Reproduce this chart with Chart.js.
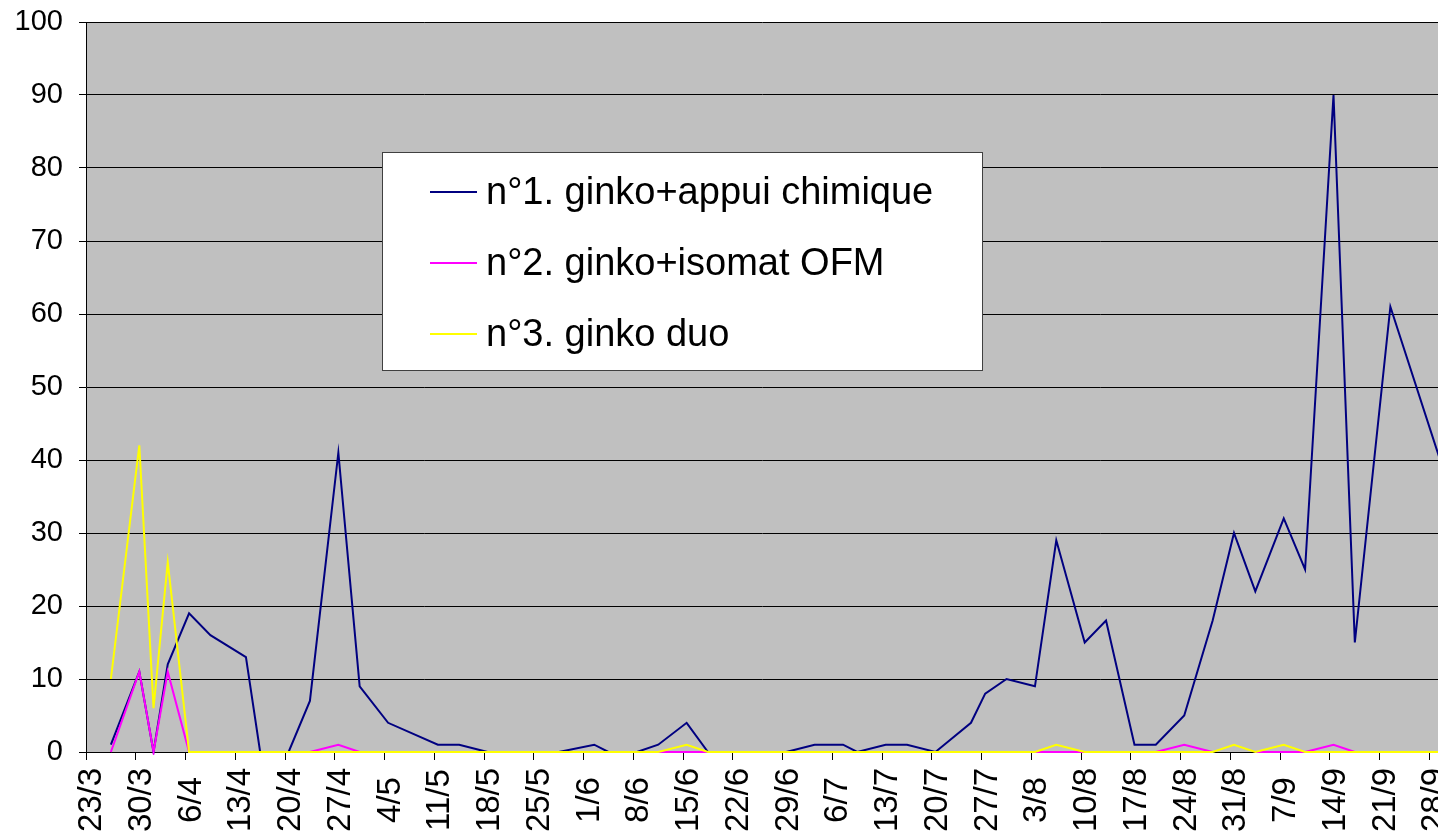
<!DOCTYPE html>
<html>
<head>
<meta charset="utf-8">
<script src="https://cdn.jsdelivr.net/npm/chart.js@4/dist/chart.umd.min.js"></script>
<style>
  html, body { margin: 0; padding: 0; background: #fff; }
  #chart { display: block; }
</style>
</head>
<body>
<canvas id="chart" width="1438" height="837"></canvas>
<script>
// ===== DATOS =====
const fechas = ['26/3', '30/3', '1/4', '3/4', '6/4', '9/4', '14/4', '16/4', '20/4', '23/4',
  '27/4', '30/4', '4/5', '11/5', '14/5', '18/5', '28/5', '2/6', '4/6', '8/6',
  '11/6', '15/6', '18/6', '29/6', '3/7', '7/7', '9/7', '13/7', '16/7', '20/7',
  '25/7', '27/7', '30/7', '3/8', '6/8', '10/8', '13/8', '17/8', '20/8', '24/8',
  '28/8', '31/8', '3/9', '7/9', '10/9', '14/9', '17/9', '22/9', '29/9'];

const serieAppui = [1, 11, 0, 12, 19, 16, 13, 0, 0, 7,
  41, 9, 4, 1, 1, 0, 0, 1, 0, 0,
  1, 4, 0, 0, 1, 1, 0, 1, 1, 0,
  4, 8, 10, 9, 29, 15, 18, 1, 1, 5,
  18, 30, 22, 32, 25, 90, 15, 61, 40];

const serieIsomat = [0, 11, 0, 11, 0, 0, 0, 0, 0, 0,
  1, 0, 0, 0, 0, 0, 0, 0, 0, 0,
  0, 0, 0, 0, 0, 0, 0, 0, 0, 0,
  0, 0, 0, 0, 0, 0, 0, 0, 0, 1,
  0, null, 0, 0, 0, 1, 0, 0, 0];

const serieDuo = [10, 42, 6, 26, 0, 0, 0, 0, 0, 0,
  0, 0, 0, 0, 0, 0, 0, 0, 0, 0,
  0, 1, 0, 0, 0, 0, 0, 0, 0, 0,
  0, 0, 0, 0, 1, 0, 0, 0, 0, 0,
  0, 1, 0, 1, 0, 0, 0, 0, 0];

const etiquetasSeries = ['n°1. ginko+appui chimique', 'n°2. ginko+isomat OFM', 'n°3. ginko duo'];
const coloresSeries = ['#000080', '#FF00FF', '#FFFF00'];

// etiquetas del eje X, una por semana a partir del 23/3
const etiquetasX = ['23/3', '30/3', '6/4', '13/4', '20/4', '27/4', '4/5', '11/5', '18/5', '25/5',
  '1/6', '8/6', '15/6', '22/6', '29/6', '6/7', '13/7', '20/7', '27/7', '3/8',
  '10/8', '17/8', '24/8', '31/8', '7/9', '14/9', '21/9', '28/9'];
const etiquetasY = [0, 10, 20, 30, 40, 50, 60, 70, 80, 90, 100];

const FUENTE = 'Arial, "Liberation Sans", sans-serif';

// ===== UTILIDADES =====
function diasDesdeInicio(fecha) {
  const partes = fecha.split('/').map(Number);
  const inicio = etiquetasX[0].split('/').map(Number);
  const a = Date.UTC(2009, partes[1] - 1, partes[0]);
  const b = Date.UTC(2009, inicio[1] - 1, inicio[0]);
  return Math.round((a - b) / 86400000);
}

// cada punto se dibuja en el centro de su día
function aPuntos(valores) {
  return fechas.map(function(f, i) {
    return { x: diasDesdeInicio(f) + 0.5, y: valores[i] };
  });
}

// ===== PLUGINS =====
const fondoPlugin = {
  id: 'fondo',
  beforeDraw: function(chart) {
    const a = chart.chartArea;
    const ctx = chart.ctx;
    ctx.save();
    ctx.fillStyle = '#C0C0C0';
    ctx.fillRect(a.left, a.top, a.right - a.left, a.bottom - a.top);
    ctx.restore();
  }
};

// etiquetas del eje X giradas y centradas
const etiquetasXPlugin = {
  id: 'etiquetasX',
  afterDraw: function(chart) {
    const scale = chart.scales.x;
    const ctx = chart.ctx;
    ctx.save();
    ctx.fillStyle = '#000';
    ctx.font = '33px ' + FUENTE;
    ctx.textAlign = 'center';
    ctx.textBaseline = 'alphabetic';
    scale.ticks.forEach(function(tick, i) {
      const px = scale.getPixelForTick(i);
      ctx.save();
      ctx.translate(px + 15, 800);
      ctx.rotate(-Math.PI / 2);
      ctx.fillText(tick.label, 0, 0);
      ctx.restore();
    });
    ctx.restore();
  }
};

const leyendaPlugin = {
  id: 'leyenda',
  afterDraw: function(chart) {
    const ctx = chart.ctx;
    const box = { x: 382.5, y: 152.5, w: 600, h: 218 };
    const filas = [192, 263, 334];
    ctx.save();
    ctx.fillStyle = '#fff';
    ctx.fillRect(box.x, box.y, box.w, box.h);
    ctx.strokeStyle = '#404040';
    ctx.lineWidth = 1;
    ctx.strokeRect(box.x, box.y, box.w, box.h);
    ctx.font = '38px ' + FUENTE;
    ctx.textBaseline = 'middle';
    ctx.textAlign = 'left';
    chart.data.datasets.forEach(function(ds, i) {
      ctx.strokeStyle = ds.borderColor;
      ctx.lineWidth = 2;
      ctx.beginPath();
      ctx.moveTo(430, filas[i]);
      ctx.lineTo(477, filas[i]);
      ctx.stroke();
      ctx.fillStyle = '#000';
      ctx.fillText(ds.label, 486, filas[i] + 2);
    });
    ctx.restore();
  }
};

// ===== GRÁFICO =====
const seriesValores = [serieAppui, serieIsomat, serieDuo];
const datasets = seriesValores.map(function(valores, i) {
  return {
    label: etiquetasSeries[i],
    data: aPuntos(valores),
    borderColor: coloresSeries[i],
    backgroundColor: coloresSeries[i],
    borderWidth: 2,
    pointRadius: 0,
    tension: 0,
    spanGaps: false,
    clip: { left: 2, top: 2, right: 0, bottom: 3 },
    order: seriesValores.length - i
  };
});

new Chart(document.getElementById('chart'), {
  type: 'line',
  data: { datasets: datasets },
  options: {
    responsive: false,
    animation: false,
    devicePixelRatio: 1,
    layout: { padding: { top: 22, left: 0, right: 0, bottom: 0 } },
    plugins: { legend: { display: false }, tooltip: { enabled: false } },
    scales: {
      x: {
        type: 'linear',
        min: 0,
        max: 190.2,
        afterFit: function(s) { s.height = 85; s.paddingLeft = 0; s.paddingRight = 0; },
        ticks: {
          display: false,
          stepSize: 7,
          includeBounds: false,
          autoSkip: false,
          callback: function(v) { return etiquetasX[Math.round(v / 7)] || ''; }
        },
        grid: { drawOnChartArea: false, drawTicks: true, tickLength: 8, color: '#000' },
        border: { color: '#000', width: 1 }
      },
      y: {
        min: etiquetasY[0],
        max: etiquetasY[etiquetasY.length - 1],
        afterFit: function(s) { s.width = 86; s.paddingTop = 0; s.paddingBottom = 0; },
        ticks: {
          stepSize: 10,
          padding: 16,
          color: '#000',
          font: { family: FUENTE, size: 29 }
        },
        grid: { color: '#000', tickLength: 7 },
        border: { color: '#000', width: 1 }
      }
    }
  },
  plugins: [fondoPlugin, etiquetasXPlugin, leyendaPlugin]
});
</script>
</body>
</html>
